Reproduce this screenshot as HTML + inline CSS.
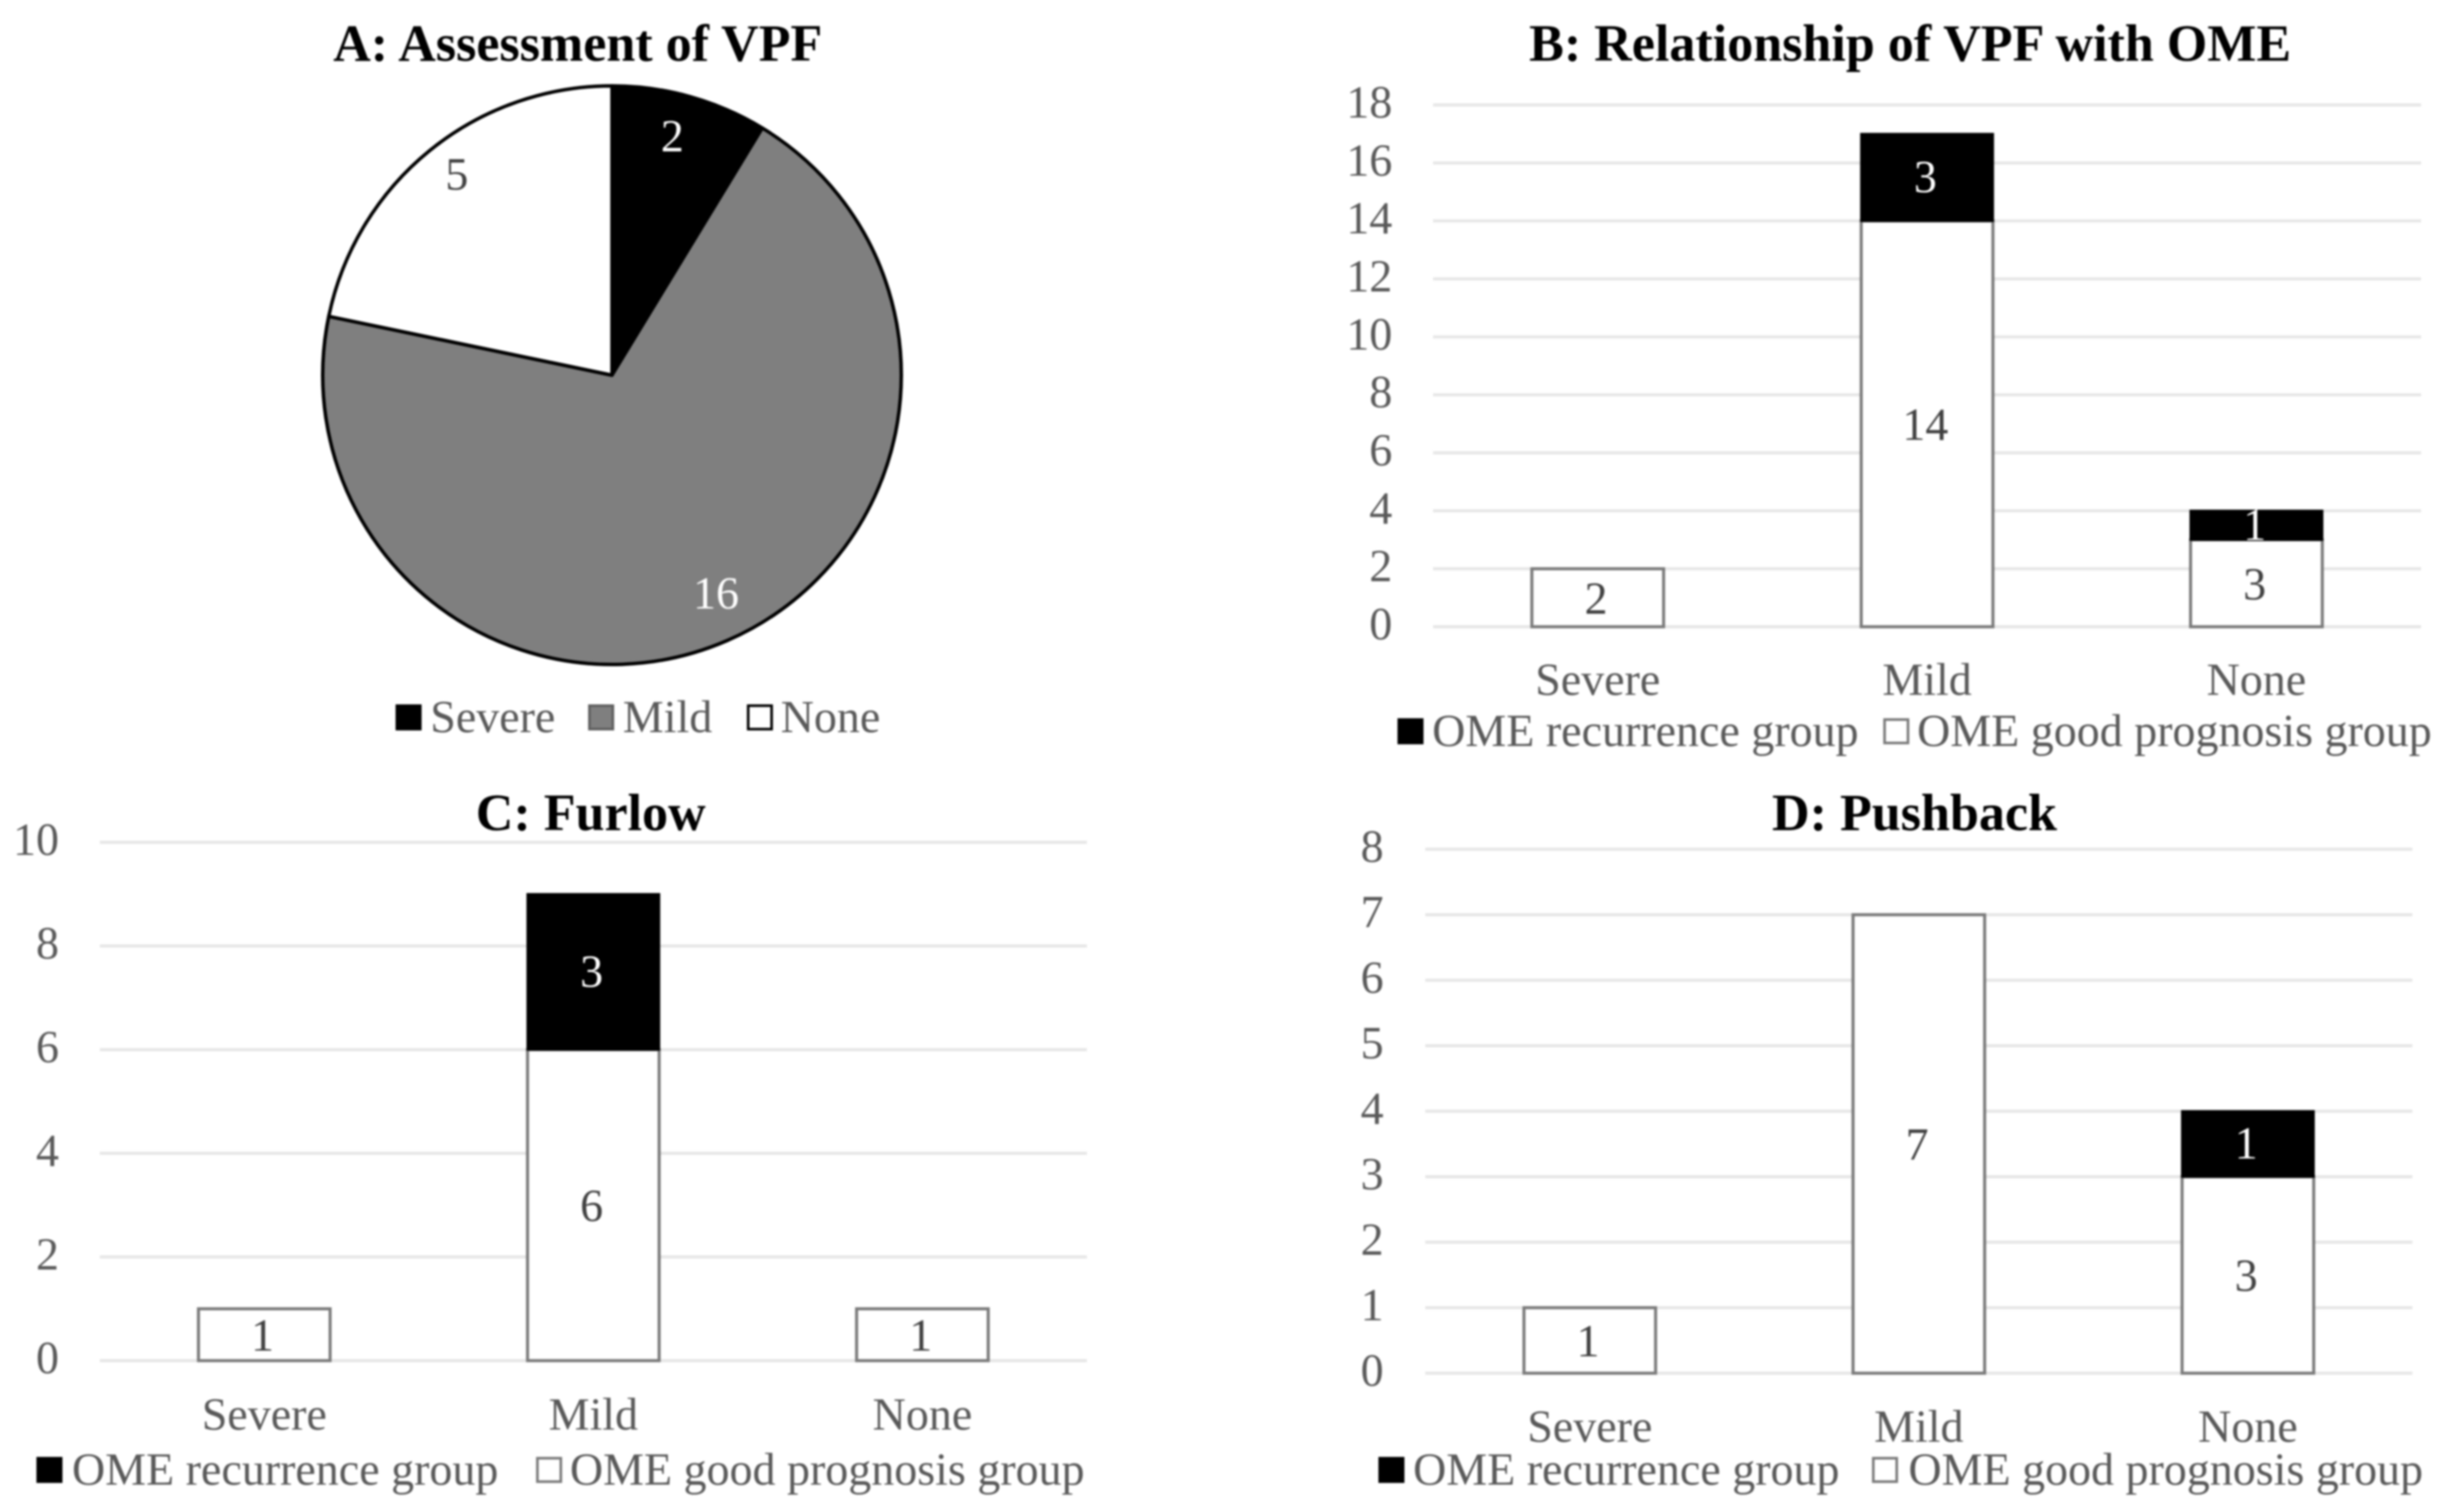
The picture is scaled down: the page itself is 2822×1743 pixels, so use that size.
<!DOCTYPE html>
<html lang="en">
<head>
<meta charset="utf-8">
<title>VPF assessment charts</title>
<style>
  html, body { margin: 0; padding: 0; background: #fff; width: 2822px; height: 1743px; overflow: hidden; }
  svg { display: block; filter: blur(1px); font-family: "Liberation Serif", serif; }
</style>
</head>
<body>
<svg id="figure" xmlns="http://www.w3.org/2000/svg" width="2822" height="1743" viewBox="0 0 2822 1743">
  <rect x="0" y="0" width="2822" height="1743" fill="#ffffff"/>
</svg>
<script>
// ---- data ----
const pieCategories = ['Severe', 'Mild', 'None'];
const pieValues = [2, 16, 5];

const barCategories = ['Severe', 'Mild', 'None'];
const seriesNames = ['OME recurrence group', 'OME good prognosis group'];

const bGood = [2, 14, 3];
const bRecurrence = [0, 3, 1];
const bTicks = [0, 2, 4, 6, 8, 10, 12, 14, 16, 18];

const cGood = [1, 6, 1];
const cRecurrence = [0, 3, 0];
const cTicks = [0, 2, 4, 6, 8, 10];

const dGood = [1, 7, 3];
const dRecurrence = [0, 0, 1];
const dTicks = [0, 1, 2, 3, 4, 5, 6, 7, 8];

// ---- helpers ----
const NS = 'http://www.w3.org/2000/svg';
const svg = document.getElementById('figure');
const FS = 53;

function shape(parent, tag, name, props) {
  const el = document.createElementNS(NS, tag);
  
  
  for (const k in props) el.setAttribute(k, props[k]);
  parent.appendChild(el);
  return el;
}

function label(parent, name, str, x, yCenter, opts) {
  const o = opts || {};
  const size = o.size || FS;
  const el = shape(parent, 'text', name, {
    x: x,
    y: yCenter + size * 0.32,
    'font-size': size,
    'text-anchor': o.anchor || 'middle',
    fill: o.fill || '#595959',
    'font-weight': o.weight || 'normal'
  });
  el.textContent = str;
  return el;
}

function group(name) {
  const g = document.createElementNS(NS, 'g');
  
  
  svg.appendChild(g);
  return g;
}

function legendEntry(parent, name, str, boxX, textX, y, fill, stroke) {
  shape(parent, 'rect', name + '-swatch', {
    x: boxX + 1.5, y: y - 13.5, width: 27, height: 27,
    fill: fill, stroke: stroke, 'stroke-width': 3
  });
  label(parent, name + '-label', str, textX, y, { anchor: 'start' });
}

// ---- stacked bar panel ----
function barPanel(id, title, good, recurrence, ticks, geo) {
  const g = group('panel-' + id);
  label(g, 'chart-title', title, geo.titleX, geo.titleY, { size: 60, weight: 'bold', fill: '#000000' });

  const tickMax = Math.max.apply(null, ticks);
  const yScale = function (v) { return geo.y0 + (geo.yTop - geo.y0) * v / tickMax; };
  const band = (geo.x1 - geo.x0) / barCategories.length;
  const xCenter = function (i) { return geo.x0 + band * (i + 0.5); };
  const barW = band * 0.4;

  ticks.forEach(function (t) {
    shape(g, 'line', 'gridline', {
      x1: geo.x0, x2: geo.x1, y1: yScale(t), y2: yScale(t),
      stroke: '#e6e6e6', 'stroke-width': 3.5
    });
    label(g, 'y-tick-label', String(t), geo.tickX, yScale(t) - 2.5, { anchor: 'end' });
  });

  barCategories.forEach(function (c, i) {
    const cx = xCenter(i);
    if (good[i] > 0) {
      shape(g, 'rect', 'bar-good-prognosis-' + c.toLowerCase(), {
        x: cx - barW / 2, y: yScale(good[i]), width: barW, height: yScale(0) - yScale(good[i]),
        fill: '#ffffff', stroke: '#7a7a7a', 'stroke-width': 3.5
      });
      label(g, 'value-label', String(good[i]), cx - 2, yScale(good[i] / 2) + 1.5, { fill: '#404040' });
    }
    if (recurrence[i] > 0) {
      const base = good[i];
      const top = base + recurrence[i];
      shape(g, 'rect', 'bar-recurrence-' + c.toLowerCase(), {
        x: cx - barW / 2, y: yScale(top), width: barW, height: yScale(base) - yScale(top),
        fill: '#000000', stroke: '#000000', 'stroke-width': 2.5
      });
      label(g, 'value-label', String(recurrence[i]), cx - 2, yScale(base + recurrence[i] / 2), { fill: '#ffffff' });
    }
    label(g, 'x-category-label', c, cx, geo.catY);
  });

  const lg = shape(g, 'g', 'legend', {});
  legendEntry(lg, 'legend-recurrence', seriesNames[0], geo.leg[0], geo.leg[1], geo.legY, '#000000', '#000000');
  legendEntry(lg, 'legend-good-prognosis', seriesNames[1], geo.leg[2], geo.leg[3], geo.legY, '#ffffff', '#7a7a7a');
}

// ---- pie panel ----
function piePanel() {
  const g = group('panel-a');
  label(g, 'chart-title', 'A: Assessment of VPF', 666, 51, { size: 60, weight: 'bold', fill: '#000000' });

  const cx = 705.5, cy = 432.5, r = 333.5;
  const fills = ['#000000', '#7f7f7f', '#ffffff'];
  const textFills = ['#ffffff', '#ffffff', '#404040'];
  const nudgeX = [-7, 7, 0];
  const nudgeY = [-2, -8, -11];
  const total = pieValues.reduce(function (a, b) { return a + b; }, 0);
  let acc = 0;
  const point = function (frac, rad) {
    const a = frac * 2 * Math.PI;
    return [cx + rad * Math.sin(a), cy - rad * Math.cos(a)];
  };
  pieValues.forEach(function (v, i) {
    const start = acc / total;
    acc += v;
    const end = acc / total;
    const p0 = point(start, r), p1 = point(end, r);
    const large = end - start > 0.5 ? 1 : 0;
    shape(g, 'path', 'pie-slice-' + pieCategories[i].toLowerCase(), {
      d: 'M' + cx + ' ' + cy + ' L' + p0[0] + ' ' + p0[1] + ' A' + r + ' ' + r + ' 0 ' + large + ' 1 ' + p1[0] + ' ' + p1[1] + ' Z',
      fill: fills[i], stroke: '#000000', 'stroke-width': 4, 'stroke-linejoin': 'round'
    });
  });
  acc = 0;
  pieValues.forEach(function (v, i) {
    const mid = (acc + v / 2) / total;
    acc += v;
    const p = point(mid, r * 0.85);
    label(g, 'pie-value-label', String(v), p[0] + nudgeX[i], p[1] + nudgeY[i], { fill: textFills[i] });
  });

  const lg = shape(g, 'g', 'legend', {});
  legendEntry(lg, 'legend-severe', pieCategories[0], 456, 496, 827, '#000000', '#000000');
  legendEntry(lg, 'legend-mild', pieCategories[1], 678, 718, 827, '#7f7f7f', '#5f5f5f');
  legendEntry(lg, 'legend-none', pieCategories[2], 861, 900, 827, '#ffffff', '#000000');
}

piePanel();

barPanel('b', 'B: Relationship of VPF with OME', bGood, bRecurrence, bTicks, {
  x0: 1652, x1: 2791, y0: 722.5, yTop: 121,
  tickX: 1605, titleX: 2202, titleY: 51, catY: 784, legY: 843,
  leg: [1611, 1651, 2171, 2210]
});

barPanel('c', 'C: Furlow', cGood, cRecurrence, cTicks, {
  x0: 115, x1: 1253, y0: 1568.5, yTop: 971,
  tickX: 68, titleX: 681, titleY: 938, catY: 1631, legY: 1694.5,
  leg: [42, 83, 618, 657]
});

barPanel('d', 'D: Pushback', dGood, dRecurrence, dTicks, {
  x0: 1643, x1: 2781, y0: 1583, yTop: 979,
  tickX: 1595, titleX: 2207, titleY: 938, catY: 1645, legY: 1694.5,
  leg: [1589, 1629, 2158, 2200]
});
</script>
</body>
</html>
